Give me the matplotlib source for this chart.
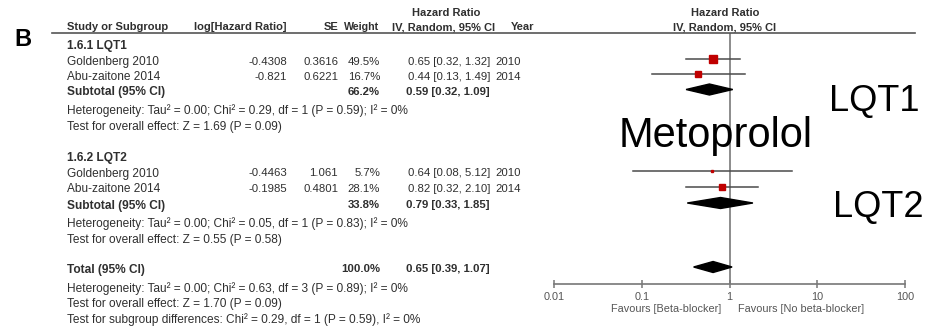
import matplotlib.pyplot as plt
import numpy as np

plt.rcParams['font.family'] = ['Liberation Sans', 'DejaVu Sans']

W, H = 926, 326

# --- study data ---
studies = ["Goldenberg 2010", "Abu-zaitone 2014", "Goldenberg 2010", "Abu-zaitone 2014"]
log_hr = ["-0.4308", "-0.821", "-0.4463", "-0.1985"]
se = ["0.3616", "0.6221", "1.061", "0.4801"]
weight = [49.5, 16.7, 5.7, 28.1]
hr = [0.65, 0.44, 0.64, 0.82]
hr_lo = [0.32, 0.13, 0.08, 0.32]
hr_hi = [1.32, 1.49, 5.12, 2.10]
years = ["2010", "2014", "2010", "2014"]

# --- pooled estimates (LQT1 subtotal, LQT2 subtotal, total) ---
pool_names = ["Subtotal (95% CI)", "Subtotal (95% CI)", "Total (95% CI)"]
pool_weight = ["66.2%", "33.8%", "100.0%"]
pool_hr = [0.59, 0.79, 0.65]
pool_lo = [0.32, 0.33, 0.39]
pool_hi = [1.09, 1.85, 1.07]

het_lines = [
    "Heterogeneity: Tau² = 0.00; Chi² = 0.29, df = 1 (P = 0.59); I² = 0%",
    "Test for overall effect: Z = 1.69 (P = 0.09)",
    "Heterogeneity: Tau² = 0.00; Chi² = 0.05, df = 1 (P = 0.83); I² = 0%",
    "Test for overall effect: Z = 0.55 (P = 0.58)",
    "Heterogeneity: Tau² = 0.00; Chi² = 0.63, df = 3 (P = 0.89); I² = 0%",
    "Test for overall effect: Z = 1.70 (P = 0.09)",
    "Test for subgroup differences: Chi² = 0.29, df = 1 (P = 0.59), I² = 0%",
]
ticks = [0.01, 0.1, 1, 10, 100]
tick_labels = ["0.01", "0.1", "1", "10", "100"]

# row layout (pixels from the top)
study_rows = [59.5, 74.5, 171, 187]
pool_rows = [89.5, 203, 267]
het_rows = [111, 127, 223.5, 239.5, 288.5, 304.5, 319.5]
TXT = 2.5  # text sits a little lower than the marks

txt_col = '#2f2f2f'
fs = 8.6      # names and notes
fs_num = 8.2  # numeric columns
fs_hdr = 8.0  # bold headers


def fx(x):
    return x / W


def fy(y):
    return 1 - y / H


fig = plt.figure(figsize=(W / 100, H / 100), dpi=100)


def t(x, y, s, ha='left', bold=False, size=fs, color=txt_col):
    fig.text(fx(x), fy(y), s, ha=ha, va='center', fontsize=size,
             fontweight='bold' if bold else 'normal', color=color)


# panel letter
fig.text(fx(23), fy(39), "B", ha='center', va='center', fontsize=17, fontweight='bold')

# table header
t(446, 13.5, "Hazard Ratio", ha='center', bold=True, size=fs_hdr)
t(725, 13.5, "Hazard Ratio", ha='center', bold=True, size=fs_hdr)
hdr_y = 27.5
t(67, hdr_y, "Study or Subgroup", bold=True, size=fs_hdr)
t(287, hdr_y, "log[Hazard Ratio]", ha='right', bold=True, size=fs_hdr)
t(338, hdr_y, "SE", ha='right', bold=True, size=fs_hdr)
t(379, hdr_y, "Weight", ha='right', bold=True, size=7.7)
t(444, hdr_y, "IV, Random, 95% CI", ha='center', bold=True, size=fs_hdr)
t(511, hdr_y, "Year", bold=True, size=fs_hdr)
t(725, hdr_y, "IV, Random, 95% CI", ha='center', bold=True, size=fs_hdr)
fig.add_artist(plt.Line2D([fx(52), fx(915)], [fy(32.5), fy(32.5)], color='#555555', lw=1.2))

# subgroup titles
t(67, 46.5, "1.6.1 LQT1", bold=True)
t(67, 157.5, "1.6.2 LQT2", bold=True)

for i in range(len(studies)):
    y = study_rows[i] + TXT
    t(67, y, studies[i])
    t(287, y, log_hr[i], ha='right', size=fs_num)
    t(338, y, se[i], ha='right', size=fs_num)
    t(380, y, f"{weight[i]:.1f}%", ha='right', size=fs_num)
    t(490, y, f"{hr[i]:.2f} [{hr_lo[i]:.2f}, {hr_hi[i]:.2f}]", ha='right', size=fs_num)
    t(495, y, years[i], size=fs_num)

for i in range(len(pool_names)):
    y = pool_rows[i] + TXT
    t(67, y, pool_names[i], bold=True)
    t(380, y, pool_weight[i], ha='right', bold=True, size=fs_num)
    t(490, y, f"{pool_hr[i]:.2f} [{pool_lo[i]:.2f}, {pool_hi[i]:.2f}]", ha='right',
      bold=True, size=fs_num)

for s, y in zip(het_lines, het_rows):
    t(67, y, s)

# forest plot
ax = fig.add_axes([fx(554), fy(284), fx(905) - fx(554), fy(32.5) - fy(284)])
ax.set_xscale('log')
ax.set_xlim(0.01, 100)
ax.set_ylim(284, 32.5)
for sp in ['top', 'left', 'right']:
    ax.spines[sp].set_visible(False)
ax.spines['bottom'].set_color('#777777')
ax.spines['bottom'].set_linewidth(1.2)
ax.set_yticks([])
ax.set_xticks(ticks)
ax.set_xticklabels(tick_labels)
ax.minorticks_off()
ax.tick_params(axis='x', direction='inout', length=6, width=1.1, color='#777777',
               labelsize=7.8, labelcolor='#555555', pad=3)
ax.patch.set_alpha(0)

ax.axvline(1, color='#8c8c8c', lw=1.4, zorder=1)

for i in range(len(hr)):
    y = study_rows[i]
    ax.plot([hr_lo[i], hr_hi[i]], [y, y], color='#4a4a4a', lw=1.1, zorder=2)
    side = 1.25 * np.sqrt(weight[i]) * 0.72
    ax.plot(hr[i], y, marker='s', ms=side, color='#c00000', mec='#c00000', zorder=3)

for i in range(len(pool_hr)):
    y = pool_rows[i]
    h = 5.5
    ax.fill([pool_lo[i], pool_hr[i], pool_hi[i], pool_hr[i]], [y, y - h, y, y + h],
            color='black', zorder=3)

ax.text(0.8, 309, "Favours [Beta-blocker]", ha='right', va='center', fontsize=7.8,
        color='#555555', clip_on=False)
ax.text(1.25, 309, "Favours [No beta-blocker]", ha='left', va='center', fontsize=7.8,
        color='#555555', clip_on=False)

# large overlay labels
fig.text(fx(716), fy(147), "Metoprolol", ha='center', va='baseline', fontsize=30)
fig.text(fx(874), fy(111.5), "LQT1", ha='center', va='baseline', fontsize=26)
fig.text(fx(878), fy(217), "LQT2", ha='center', va='baseline', fontsize=26)

fig.savefig("out.png", dpi=100)
